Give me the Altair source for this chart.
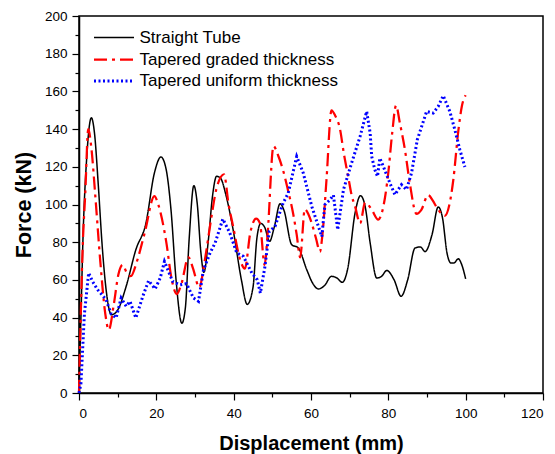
import altair as alt
import pandas as pd

series_names = ["Straight Tube", "Tapered graded thickness", "Tapered uniform thickness"]
series_colors = ["#000000", "#ff0000", "#0000ff"]

straight_x = [0, 0.5, 1, 2, 3.2, 4, 5, 6, 7, 8.4, 10, 12.2, 14.7, 17.3, 19.5, 21.2, 22.5, 23.8, 25.1, 26.6,
              27.5, 28.5, 29.7, 30.6, 31.5, 32.3, 33.5, 34.5, 35.6, 36.6, 38, 40, 42, 43.5, 45, 46, 47, 48,
              49.3, 50.5, 52, 53, 55, 56.7, 58.9, 60.5, 61.9, 63.5, 65.3, 66.7, 68.1, 69.5, 71.4, 72.8, 74,
              75.3, 77, 78.3, 79.6, 81.5, 83.3, 85, 86.9, 88.3, 89.5, 91.3, 92.9, 94, 95.2, 96.2, 97, 98.1,
              99, 100]
straight_y = [5, 40, 80, 125, 146, 138, 110, 78, 55, 41.5, 44, 56.6, 76, 90, 116.7, 125.2, 119, 97, 60, 37,
              45, 82, 110, 100, 75, 64, 82, 104, 115, 114, 105, 85, 60, 47, 56, 82, 90, 88,
              80.5, 88, 100.4, 97, 78.7, 77, 65.4, 58, 55.2, 57, 61.9, 61, 58.7, 66, 95.5, 104.7, 99,
              79.6, 61, 62, 65, 60, 51.3, 60, 76.9, 77.5, 75, 84, 98.7, 93, 74, 68.9, 69, 71.2,
              68, 60.5]

graded_x = [0, 0.5, 1, 1.6, 2.4, 3.2, 4.2, 5.5, 6.8, 7.7, 9, 10.2, 11.3, 12.3, 13.4, 15, 17, 19.5, 20.5, 22.5,
            24, 25.3, 26.5, 28.3, 29.5, 31.1, 32.5, 34.3, 35.5, 37.5, 38.7, 39.9, 41.5, 42.9, 44.3, 45.8,
            46.8, 48, 48.8, 50.3, 51.5, 52.8, 54, 55.4, 56.3, 57.2, 58.4, 59.3, 60.2, 61.3, 62.3, 63, 64,
            65.3, 66.3, 67.5, 68.5, 69.6, 70.5, 71.4, 72.7, 74, 75.5, 77.4, 78.5, 80, 81, 82, 83, 84.3,
            85.5, 87.3, 88.5, 90.3, 91.5, 92.5, 94.6, 95.8, 96.8, 98.1, 99, 100]
graded_y = [0, 45, 80, 105, 140, 130, 105, 70, 42, 33.5, 47, 63, 68, 64, 62, 70, 85, 104.5, 100, 81,
            60, 52.5, 58, 72, 66, 56, 70, 94, 108, 116, 100, 88, 72, 66, 85, 92.5,
            90, 68, 85, 131, 126, 118, 108, 95, 84, 72, 97.5, 95, 90, 82, 75, 85, 113,
            150, 147, 140, 127, 115, 105, 99, 90, 101, 98, 92, 97, 117, 138, 152.5, 143, 129,
            112, 95, 97, 105, 102, 98.5, 94, 100, 113, 139, 152, 158]

uniform_x = [0, 0.5, 1.4, 2.5, 3.5, 4.8, 6, 7, 8.3, 9.6, 10.9, 12.2, 13.2, 14.7, 16.5, 18, 19.7, 21, 22.1,
             24.2, 26.1, 27.8, 29.6, 30.9, 32.2, 33.9, 35.2, 37.2, 39, 40.8, 42.5, 44.7, 46.1, 46.9, 48.1,
             49.2, 50.7, 52.8, 54.1, 56.3, 58, 60.2, 61.9, 62.8, 63.6, 64.9, 65.8, 66.9, 68.4, 70.5, 72.7,
             74.4, 75.3, 75.7, 76.5, 77.2, 77.8, 78.7, 80.4, 81.7, 83.4, 84.7, 86, 87.5, 89.9, 91.6, 92.9,
             94.2, 95.9, 97.2, 98.5, 99.8]
uniform_y = [0, 5, 42, 63.7, 59.2, 54.8, 52, 49.5, 42, 39.8, 50.4, 46, 48.6, 39.8, 51.3, 59.6, 55.2, 61, 69.8,
             59.2, 57.4, 58, 50.4, 48.6, 65.4, 74.3, 79.6, 92.3, 84.9, 74.3, 72.5, 63.7, 60.1, 53, 67.2,
             85.7, 88.4, 100.8, 106, 125.5, 116.7, 99, 88.4, 83, 99.9, 102.5, 105, 86.6, 107.9, 122, 136.1,
             149.4, 137.9, 125.5, 118.5, 114.9, 124.6, 120.2, 111.4, 105.2, 110.5, 107.9, 116.7, 134.4, 149.4,
             148.5, 152, 157.7, 149.4, 139.7, 129, 119.9]

x_ticks = list(range(0, 121, 10))
y_ticks = list(range(0, 201, 10))

rows = []
for name, xs, ys in zip(series_names, [straight_x, graded_x, uniform_x], [straight_y, graded_y, uniform_y]):
    for i, (xv, yv) in enumerate(zip(xs, ys)):
        rows.append({"series": name, "disp": xv, "force": yv, "idx": i})
df = pd.DataFrame(rows)

FONT = "Liberation Sans"

legend = alt.Legend(
    title=None, orient="none", legendX=24, legendY=11, padding=0,
    symbolType="M-2.105,0H2.105", symbolSize=361, labelFontSize=17, labelFont=FONT,
    labelColor="#000000", labelOffset=14.5, rowPadding=2.5, labelLimit=400,
)

x_enc = alt.X(
    "disp:Q", scale=alt.Scale(domain=[0, 120], nice=False),
    axis=alt.Axis(
        title="Displacement (mm)", values=x_ticks,
        labelExpr="datum.value % 20 == 0 ? datum.label : ''",
        tickSize={"condition": {"test": "datum.value % 20 == 0", "value": 7}, "value": 4},
        labelPadding=6, labelFontSize=13.5, titleFontSize=20, titleY=56, titleBaseline="alphabetic",
    ),
)
y_enc = alt.Y(
    "force:Q", scale=alt.Scale(domain=[0, 200], nice=False),
    axis=alt.Axis(
        title="Force (kN)", values=y_ticks,
        labelExpr="datum.value % 20 == 0 ? datum.label : ''",
        tickSize={"condition": {"test": "datum.value % 20 == 0", "value": 7}, "value": 4},
        labelPadding=5, labelFontSize=13.5, titleFontSize=21.5, titleX=-49, titleY=188.5,
        titleAngle=270, titleAlign="center", titleBaseline="alphabetic",
    ),
)
color_enc = alt.Color("series:N", scale=alt.Scale(domain=series_names, range=series_colors), legend=legend)
dash_enc = alt.StrokeDash("series:N", scale=alt.Scale(domain=series_names, range=[[1, 0], [13, 5, 3, 5], [2, 2.5]]), legend=legend)
width_enc = alt.StrokeWidth("series:N", scale=alt.Scale(domain=series_names, range=[1.5, 3, 2]), legend=legend)

base = alt.Chart(df).encode(
    x=x_enc, y=y_enc, color=color_enc, strokeDash=dash_enc, strokeWidth=width_enc,
    order=alt.Order("idx:Q"),
)

smooth = base.transform_filter(alt.datum.series != series_names[2]).mark_line(interpolate="monotone")
jagged = base.transform_filter(alt.datum.series == series_names[2]).mark_line(interpolate="linear")

chart = alt.layer(smooth, jagged).properties(
    width=464, height=377,
    autosize=alt.AutoSizeParams(type="none"),
    padding={"left": 79, "top": 16, "right": 12, "bottom": 61},
    background="white",
).configure_view(
    stroke="#000000", strokeWidth=1.5,
).configure_axis(
    grid=False, domainColor="#000000", domainWidth=1.5, tickColor="#000000", tickWidth=1.2,
    labelFont=FONT, titleFont=FONT, labelColor="#000000", titleColor="#000000", titleFontWeight="bold",
)

chart.save("out.html", embed_options={"renderer": "svg", "actions": False})
